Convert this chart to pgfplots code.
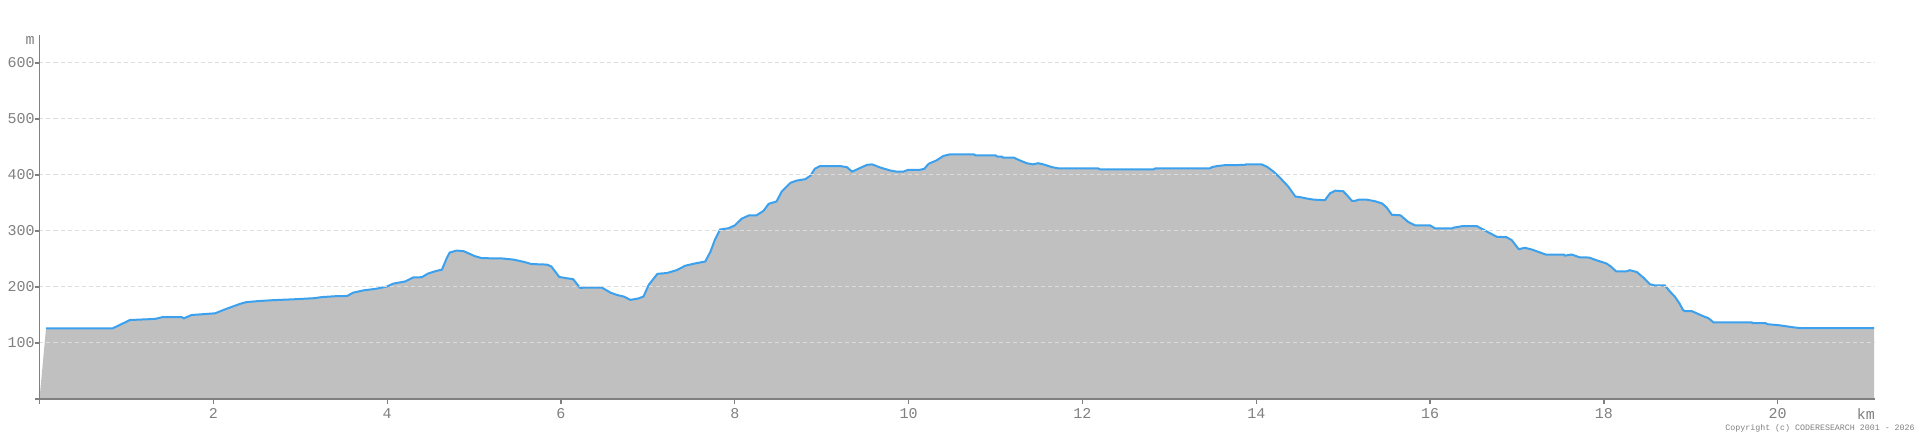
\documentclass[border=0pt]{standalone}
\usepackage{fontspec}
\setmainfont{Liberation Mono}
\usepackage{pgfplots}
\usepackage{pgfplotstable}
\pgfplotsset{compat=1.18}
\definecolor{fillgray}{HTML}{C0C0C0}
\definecolor{lineblue}{HTML}{3BA1EE}
\definecolor{axgray}{HTML}{808080}
\definecolor{gridgray}{HTML}{DDDDDD}
\pgfplotstableread{
x y
0 0
0.075 126
0.84 126
1.04 141
1.33 143
1.41 146
1.64 146
1.66 144
1.75 150
1.885 151.5
2.02 153
2.15 161
2.31 170
2.38 173
2.53 175
2.69 176.5
2.92 178
3.16 180
3.25 182
3.40 183.5
3.54 184
3.61 190
3.73 194
3.88 197
4.00 201
4.07 206
4.21 210
4.30 217
4.40 217.5
4.47 224
4.55 228
4.63 231
4.69 253
4.72 261.6
4.80 265
4.88 264
5.01 255
5.09 251.5
5.32 251
5.45 249
5.57 245
5.66 241
5.84 240
5.89 236.6
5.98 218
6.05 216
6.14 214
6.22 198.5
6.32 199
6.47 199
6.57 190
6.64 186
6.72 183
6.80 177
6.89 179.5
6.95 183
7.01 204
7.11 223.5
7.22 225
7.33 230
7.43 238
7.54 242
7.66 245.5
7.72 263
7.77 284
7.83 302.7
7.93 305
8.00 310
8.08 322
8.16 327.7
8.25 328
8.33 336
8.39 348.5
8.48 352.7
8.54 370.5
8.64 386
8.71 390
8.81 392.5
8.87 398.6
8.92 411
8.98 416
9.21 416
9.29 414
9.35 406
9.42 411
9.52 418
9.58 419
9.68 413
9.79 408
9.86 406
9.94 406
9.99 409
10.12 409
10.18 411
10.23 420
10.32 426
10.40 434
10.48 437
10.75 437
10.77 435
11.00 435
11.02 433
11.07 433
11.09 431
11.21 431
11.28 426
11.36 421
11.43 419
11.49 421
11.55 419
11.65 414
11.72 412
12.18 412
12.20 410
12.82 410
12.84 412
13.47 412
13.49 414
13.55 416
13.64 417.5
13.87 418
13.88 419
14.06 419
14.12 415
14.20 406
14.28 394
14.37 379
14.45 361.6
14.52 360
14.58 358
14.66 356
14.79 355
14.85 367.5
14.91 372
15.00 371
15.04 364.6
15.10 354
15.14 354
15.18 356
15.27 356
15.37 353
15.45 349
15.50 342
15.56 329
15.66 328
15.75 316
15.83 310
16.00 310
16.06 304.5
16.25 304.5
16.27 306
16.37 308.6
16.54 308.6
16.61 302.7
16.69 296
16.77 289.6
16.88 289
16.94 283.6
17.02 267.5
17.09 270
17.17 267
17.33 258
17.54 258
17.55 256
17.63 258
17.72 253
17.83 252.6
17.91 248
18.03 242
18.08 236.6
18.14 228
18.26 228
18.30 230
18.38 226.6
18.46 216
18.53 205
18.58 203
18.70 203
18.76 192
18.82 182
18.87 170.5
18.91 159
18.93 157
19.01 157
19.09 151.5
19.14 148
19.20 144.5
19.26 137
19.70 137
19.71 135.5
19.86 135.5
19.88 133.6
20.01 131.8
20.18 128
20.26 126.5
21.11 126.5
}\prof
\begin{document}
\begin{tikzpicture}
\begin{axis}[
  x=43.455pt, y=0.28pt,
  xmin=0, xmax=21.12, ymin=0, ymax=650,
  axis lines=left,
  axis line style={-, draw=axgray, line width=0.75pt},
  axis on top,
  xtick={0,2,...,20}, xticklabels={,2,4,6,8,10,12,14,16,18,20},
  ytick={0,100,...,600}, yticklabels={,100,200,300,400,500,600},
  tick align=outside, major tick length=2.4pt,
  tick style={draw=axgray, line width=0.6pt},
  ymajorgrids,
  grid style={draw=gridgray, dash pattern=on 2pt off 1.5pt, line width=0.5pt},
  /pgf/number format/assume math mode=true,
  ticklabel style={font=\fontsize{7.5}{9}\selectfont, text=axgray, inner sep=0pt},
  xticklabel style={anchor=base, yshift=-7.15pt},
  yticklabel style={anchor=base east, xshift=0.15pt, yshift=-2.4pt},
  clip=false,
]
\addplot[fill=fillgray, draw=none] table[x=x,y=y]{\prof} \closedcycle;
\addplot[lineblue, line width=1pt, skip coords between index={0}{1}] table[x=x,y=y]{\prof};
\end{axis}
\node[anchor=base, text=axgray, inner sep=0pt, font=\fontsize{7.5}{9}\selectfont] at (-4.65pt,177pt) {m};
\node[anchor=base, text=axgray, inner sep=0pt, font=\fontsize{7.5}{9}\selectfont] at (913.15pt,-10.15pt) {km};
\node[anchor=base west, text=axgray, inner sep=0pt, font=\fontsize{4.15}{5}\selectfont] at (842.75pt,-15.85pt) {Copyright (c) CODERESEARCH 2001 - 2026};
\pgfresetboundingbox
\path[use as bounding box] (-19.75pt,-19.5pt) rectangle (940.25pt,199.5pt);
\end{tikzpicture}
\end{document}
